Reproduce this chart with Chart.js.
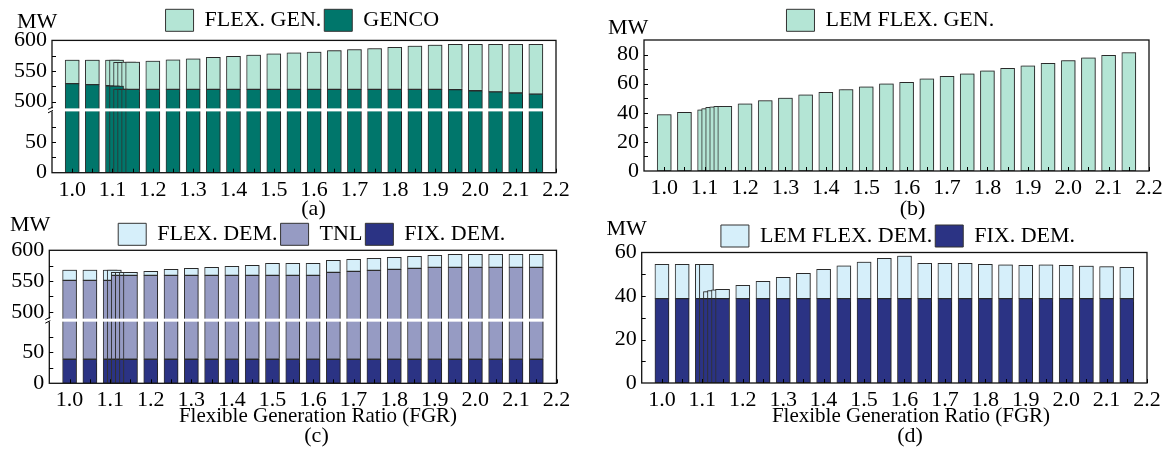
<!DOCTYPE html>
<html>
<head>
<meta charset="utf-8">
<script src="https://cdn.jsdelivr.net/npm/chart.js@4.4.1/dist/chart.umd.min.js"></script>
<style>
  html, body { margin:0; padding:0; background:#ffffff; }
  #fig { position:relative; width:1169px; height:453px; overflow:hidden; background:#ffffff;
         font-family:"Liberation Serif","Times New Roman",serif; color:#000; }
  #fig canvas { position:absolute; }
  .lbl { position:absolute; font-size:22px; line-height:22px; white-space:nowrap; }
  .ctr { transform:translateX(-50%); }
</style>
</head>
<body>
<div id="fig">
  <canvas id="cA" width="585" height="200" style="left:0px;top:0px;"></canvas>
  <canvas id="cB" width="584" height="200" style="left:585px;top:0px;"></canvas>
  <canvas id="cC" width="585" height="230" style="left:0px;top:200px;"></canvas>
  <canvas id="cD" width="584" height="230" style="left:585px;top:200px;"></canvas>
  <div class="lbl" style="left:17px;top:9.5px">MW</div>
  <div class="lbl" style="left:608px;top:16px">MW</div>
  <div class="lbl" style="left:10px;top:213px">MW</div>
  <div class="lbl" style="left:606.5px;top:217px">MW</div>
  <div class="lbl ctr" style="left:313.5px;top:196.5px">(a)</div>
  <div class="lbl ctr" style="left:912.5px;top:196.5px">(b)</div>
  <div class="lbl ctr" style="left:316.5px;top:423.5px">(c)</div>
  <div class="lbl ctr" style="left:910px;top:423.5px">(d)</div>
  <div class="lbl ctr" style="left:318px;top:405px;font-size:21px;line-height:21px">Flexible Generation Ratio (FGR)</div>
  <div class="lbl ctr" style="left:911px;top:405px;font-size:21px;line-height:21px">Flexible Generation Ratio (FGR)</div>
</div>
<script>
// ---------------- data ----------------
const fgr = [1.00, 1.05, 1.10, 1.11, 1.12, 1.13, 1.14, 1.15, 1.20, 1.25, 1.30, 1.35, 1.40, 1.45,
             1.50, 1.55, 1.60, 1.65, 1.70, 1.75, 1.80, 1.85, 1.90, 1.95, 2.00, 2.05, 2.10, 2.15];
const xTickValues = [1.0, 1.1, 1.2, 1.3, 1.4, 1.5, 1.6, 1.7, 1.8, 1.9, 2.0, 2.1, 2.2];
const xMinorTicks = [1.00, 1.05, 1.10, 1.15, 1.20, 1.25, 1.30, 1.35, 1.40, 1.45, 1.50, 1.55, 1.60,
                     1.65, 1.70, 1.75, 1.80, 1.85, 1.90, 1.95, 2.00, 2.05, 2.10, 2.15, 2.20];

// (a) generation side
const gencoA = [529.3, 527.7, 525.9, 525.2, 520.3, 520.0, 520.0, 520.0, 520.0, 520.0, 520.0, 520.0, 520.0, 520.0,
                520.0, 520.0, 520.0, 520.0, 520.0, 520.0, 520.0, 520.0, 520.0, 519.6, 517.7, 515.9, 514.1, 512.3];
const flexGenA = [38.7, 40.3, 42.1, 42.8, 43.7, 44.1, 44.4, 44.5, 46.2, 48.3, 50.1, 52.4, 54.0, 56.0,
                  57.9, 59.9, 61.0, 63.3, 65.1, 66.7, 68.8, 70.6, 72.2, 74.0, 75.9, 77.7, 79.5, 81.3];
// (b) LEM flexible generation
const lemFlexGenB = [38.7, 40.3, 42.1, 42.8, 43.7, 44.1, 44.4, 44.5, 46.2, 48.3, 50.1, 52.4, 54.0, 56.0,
                     57.9, 59.9, 61.0, 63.3, 65.1, 66.7, 68.8, 70.6, 72.2, 74.0, 75.9, 77.7, 79.5, 81.3];
// (c) demand side
const fixDemC = [38.8, 38.8, 38.8, 38.8, 38.8, 38.8, 38.8, 38.8, 38.8, 38.8, 38.8, 38.8, 38.8, 38.8,
                 38.8, 38.8, 38.8, 38.8, 38.8, 38.8, 38.8, 38.8, 38.8, 38.8, 38.8, 38.8, 38.8, 38.8];
const tnlC = [512.3, 512.3, 512.3, 512.3, 520.4, 520.4, 520.4, 520.4, 520.4, 520.4, 520.4, 520.4, 520.4, 520.4,
              520.4, 520.4, 520.4, 525.3, 527.0, 528.6, 530.2, 531.9, 533.5, 533.5, 533.5, 533.5, 533.5, 533.5];
const flexDemC = [16.8, 16.8, 16.8, 16.8, 4.9, 4.9, 4.9, 4.9, 6.6, 9.8, 11.5, 13.1, 14.7, 16.3,
                  19.6, 19.6, 19.6, 19.6, 19.5, 19.6, 19.6, 19.5, 19.5, 21.2, 21.2, 21.2, 21.2, 21.2];
// (d) LEM demand
const fixDemD = [38.8, 38.8, 38.8, 38.8, 38.8, 38.8, 38.8, 38.8, 38.8, 38.8, 38.8, 38.8, 38.8, 38.8,
                 38.8, 38.8, 38.8, 38.8, 38.8, 38.8, 38.8, 38.8, 38.8, 38.8, 38.8, 38.8, 38.8, 38.8];
const lemFlexDemD = [15.8, 15.8, 15.8, 15.8, 3.2, 3.7, 4.0, 4.3, 6.1, 7.9, 9.8, 11.6, 13.5, 15.1,
                     16.8, 18.5, 19.6, 16.2, 16.2, 16.2, 15.8, 15.5, 15.3, 15.5, 15.3, 15.0, 14.7, 14.4];

// tick labels of the y axes
const yTicksHi = [500, 550, 600];
const yTicksLo = [0, 50];
const yTicksB = [0, 20, 40, 60, 80];
const yTicksD = [0, 20, 40, 60];

// ---------------- styling ----------------
const FONT = '"Liberation Serif", "Times New Roman", serif';
Chart.defaults.font.family = FONT;
Chart.defaults.font.size = 22;
Chart.defaults.color = '#000';
Chart.defaults.animation = false;

const C = {
  flexGen: '#b4e5d5', genco: '#00766b',
  flexDem: '#d6effa', tnl: '#969bc3', fixDem: '#2b3384',
  edge: '#333333'
};

function pts(arr) { return fgr.map((x, i) => ({ x: x, y: arr[i] })); }

function ds(label, arr, color, yAxisID, skip) {
  return {
    label: label, data: pts(arr), yAxisID: yAxisID,
    backgroundColor: color, borderColor: C.edge, borderWidth: 1,
    borderSkipped: false, barThickness: 14, grouped: false,
    legendSkip: !!skip, clip: false
  };
}

function framePlugin(o) {
  return {
    id: 'frame',
    beforeLayout(chart) {
      const lg = chart.legend;
      if (lg && !lg.__fixed) {
        const fit0 = lg.fit;
        lg.fit = function () { fit0.call(this); this.height = o.legendHeight; };
        lg.__fixed = true;
      }
    },
    afterLayout(chart) {
      const lg = chart.legend;
      if (lg) {
        const w = lg.right - lg.left;
        lg.left = o.legendCenter - w / 2;
        lg.right = lg.left + w;
      }
    },
    beforeDatasetDraw(chart, args) {
      const ctx = chart.ctx, a = chart.chartArea, ys = args.meta.yScale;
      ctx.save();
      ctx.beginPath();
      ctx.rect(a.left - 3, ys.top, a.right - a.left + 6, ys.bottom - ys.top);
      ctx.clip();
      ctx.shadowColor = 'rgba(0,0,0,0.30)';
      ctx.shadowBlur = 1.5;
      ctx.shadowOffsetX = 1.2;
      ctx.shadowOffsetY = -0.8;
    },
    afterDatasetDraw(chart) { chart.ctx.restore(); },
    afterDatasetsDraw(chart) {
      const ctx = chart.ctx, a = chart.chartArea, xs = chart.scales.x;
      ctx.save();
      ctx.strokeStyle = '#111'; ctx.lineWidth = 1.3;
      ctx.strokeRect(a.left, a.top, a.right - a.left, a.bottom - a.top);
      ctx.lineWidth = 1; ctx.strokeStyle = '#000';
      ctx.beginPath();
      xMinorTicks.forEach(v => {
        const p = Math.round(xs.getPixelForValue(v)) + 0.5;
        ctx.moveTo(p, a.bottom); ctx.lineTo(p, a.bottom - 4);
      });
      o.yMarks.forEach(m => {
        const sc = chart.scales[m.axis];
        m.values.forEach(v => {
          const p = Math.round(sc.getPixelForValue(v)) + 0.5;
          ctx.moveTo(a.left, p); ctx.lineTo(a.left + 4, p);
        });
      });
      ctx.stroke();
      if (o.broken) {
        const yb = chart.scales.yHi.bottom;
        ctx.fillStyle = '#fff';
        ctx.fillRect(a.left - 5, yb - 1.5, a.right - a.left + 3.5, 3);
        ctx.beginPath();
        ctx.moveTo(a.left - 4, yb - 0.5); ctx.lineTo(a.left + 1, yb - 3);
        ctx.moveTo(a.left - 4, yb + 3); ctx.lineTo(a.left + 1, yb + 0.5);
        ctx.stroke();
      }
      ctx.restore();
    }
  };
}

function xScale(geo) {
  return {
    type: 'linear', min: 0.95, max: 2.2, offset: false, stacked: true,
    grid: { display: false, drawTicks: false }, border: { display: false },
    afterBuildTicks: s => { s.ticks = xTickValues.map(v => ({ value: v })); },
    ticks: { padding: 4, autoSkip: false, maxRotation: 0, callback: v => Number(v).toFixed(1) },
    afterFit: s => { s.height = geo.xH; }
  };
}

function yScale(geo, min, max, ticks, extra) {
  return Object.assign({
    type: 'linear', position: 'left', stacked: true, min: min, max: max,
    grid: { display: false, drawTicks: false }, border: { display: false },
    afterBuildTicks: s => { s.ticks = ticks.map(v => ({ value: v })); },
    ticks: { padding: 5, autoSkip: false },
    afterFit: s => { s.width = geo.yW; }
  }, extra || {});
}

function build(id, geo, datasets, scales, marks, broken) {
  scales.x = xScale(geo);
  new Chart(document.getElementById(id), {
    type: 'bar',
    data: { datasets: datasets },
    options: {
      responsive: false, animation: false,
      layout: { padding: { left: 0, right: geo.pr, top: geo.pt, bottom: 0 } },
      scales: scales,
      plugins: {
        legend: {
          reverse: true,
          labels: {
            boxWidth: 28, boxHeight: 22, padding: 3, color: '#000', font: { size: 22 },
            filter: (it, data) => !data.datasets[it.datasetIndex].legendSkip
          }
        },
        tooltip: { enabled: false }
      }
    },
    plugins: [framePlugin({ legendHeight: geo.lh, legendCenter: geo.lc, yMarks: marks, broken: broken })]
  });
}

// ---------- (a) ----------
build('cA', { yW: 52, pr: 29, pt: 6.3, lh: 34.1, xH: 27.3, lc: 302.3 },
  [
    ds('GENCO', gencoA, C.genco, 'yLo'),
    ds('FLEX. GEN.', flexGenA, C.flexGen, 'yLo'),
    ds('GENCO', gencoA, C.genco, 'yHi', true),
    ds('FLEX. GEN.', flexGenA, C.flexGen, 'yHi', true)
  ],
  {
    yLo: yScale({ yW: 52 }, 0, 102, yTicksLo, { stack: 'v', stackWeight: 63 }),
    yHi: yScale({ yW: 52 }, 486.5, 600, yTicksHi, { stack: 'v', stackWeight: 69.7 })
  },
  [{ axis: 'yHi', values: [500, 525, 550, 575] }, { axis: 'yLo', values: [25, 50, 75] }], true);

// ---------- (b) ----------
build('cB', { yW: 59, pr: 20, pt: 6.3, lh: 33.7, xH: 29, lc: 305.3 },
  [ ds('LEM FLEX. GEN.', lemFlexGenB, C.flexGen, 'y') ],
  { y: yScale({ yW: 59 }, 0, 90, yTicksB) },
  [{ axis: 'y', values: [10, 20, 30, 40, 50, 60, 70, 80] }], false);

// ---------- (c) ----------
build('cC', { yW: 49.3, pr: 28.5, pt: 20.3, lh: 30, xH: 46.7, lc: 311.7 },
  [
    ds('FIX. DEM.', fixDemC, C.fixDem, 'yLo'),
    ds('TNL', tnlC, C.tnl, 'yLo'),
    ds('FLEX. DEM.', flexDemC, C.flexDem, 'yLo'),
    ds('FIX. DEM.', fixDemC, C.fixDem, 'yHi', true),
    ds('TNL', tnlC, C.tnl, 'yHi', true),
    ds('FLEX. DEM.', flexDemC, C.flexDem, 'yHi', true)
  ],
  {
    yLo: yScale({ yW: 49.3 }, 0, 102, yTicksLo, { stack: 'v', stackWeight: 63 }),
    yHi: yScale({ yW: 49.3 }, 486.5, 600, yTicksHi, { stack: 'v', stackWeight: 69.7 })
  },
  [{ axis: 'yHi', values: [500, 525, 550, 575] }, { axis: 'yLo', values: [25, 50, 75] }], true);

// ---------- (d) ----------
build('cD', { yW: 56.7, pr: 22, pt: 22, lh: 30.5, xH: 47, lc: 313 },
  [
    ds('FIX. DEM.', fixDemD, C.fixDem, 'y'),
    ds('LEM FLEX. DEM.', lemFlexDemD, C.flexDem, 'y')
  ],
  { y: yScale({ yW: 56.7 }, 0, 60, yTicksD) },
  [{ axis: 'y', values: [10, 20, 30, 40, 50] }], false);
</script>
</body>
</html>
